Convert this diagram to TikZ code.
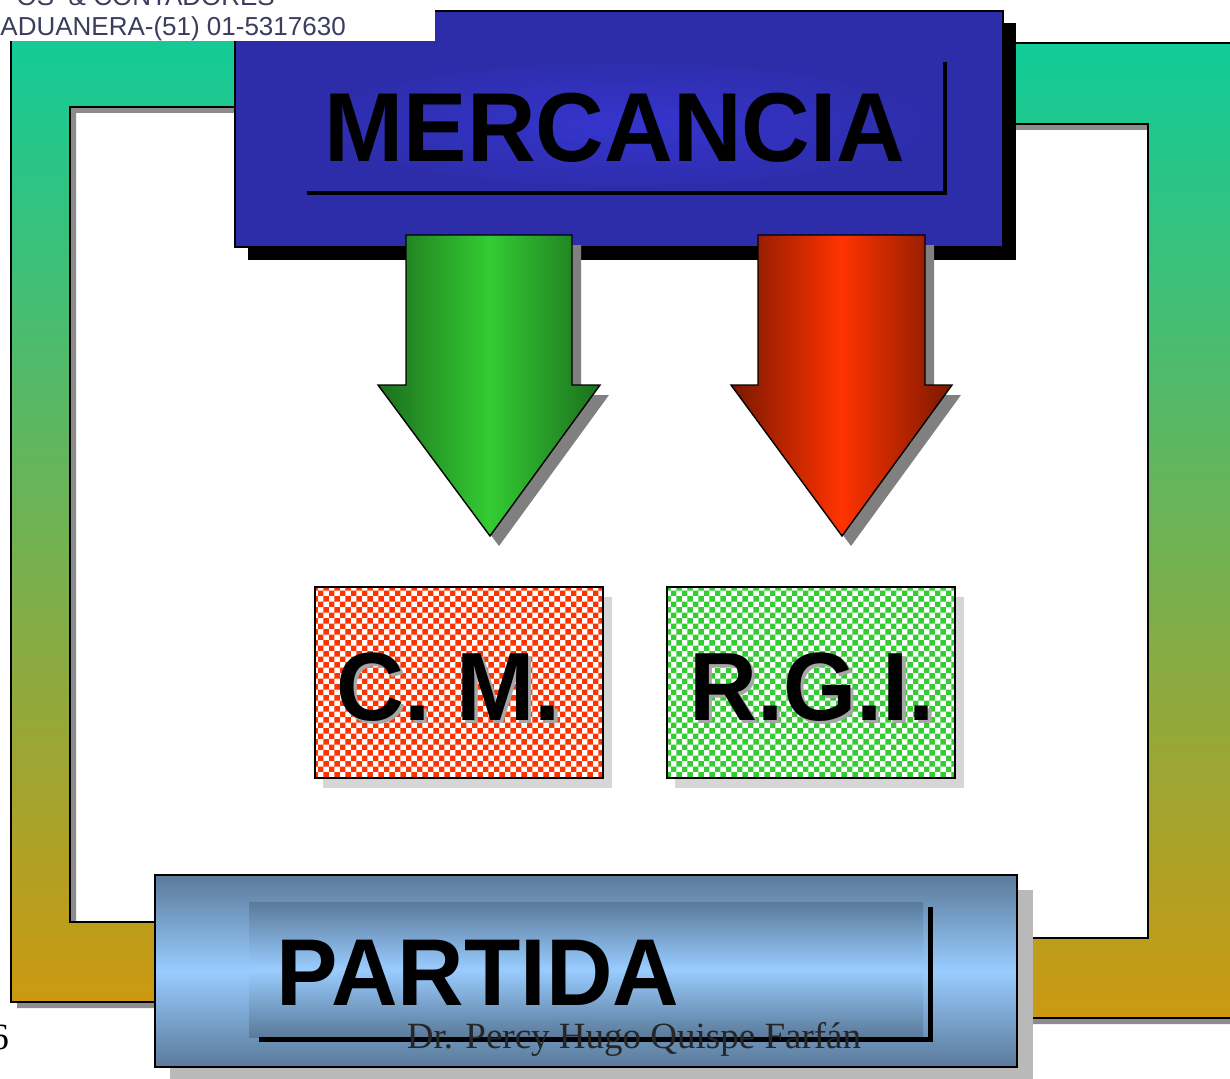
\documentclass[tikz,border=0pt]{standalone}
\usepackage{fontspec}
\setmainfont{Liberation Serif}
\setsansfont{Liberation Sans}
\usetikzlibrary{patterns}
\definecolor{teal1}{HTML}{10CC99}
\definecolor{gold1}{HTML}{CC9911}
\definecolor{blueout}{HTML}{2D2DAA}
\definecolor{bluein}{HTML}{3535CE}
\definecolor{gdark}{HTML}{1C6E1C}
\definecolor{glight}{HTML}{33CC33}
\definecolor{rdark}{HTML}{7A1800}
\definecolor{rlight}{HTML}{FF3300}
\definecolor{steel}{HTML}{5A7A9A}
\definecolor{sky}{HTML}{99CCFF}
\definecolor{headtxt}{HTML}{3C3C5E}
\definecolor{arrsh}{HTML}{808080}
\definecolor{boxsh}{HTML}{D6D6D6}
\newcommand{\bigsans}[1]{\fontsize{#1}{#1}\selectfont\sffamily\bfseries}
\begin{document}
\begin{tikzpicture}[x=1pt,y=-1pt,line join=miter,
  outl/.style={draw=black,line width=1.2pt},
  framefill/.style={top color=teal1,bottom color=gold1,outl},
  frameshadow/.style={fill=gray!90},
  bigtxt/.style={anchor=base,inner sep=0pt,xscale=.97,font=\bigsans{#1}},
  arrowsh/.style={fill=arrsh},
  greenarr/.style={left color=gdark,right color=gdark,middle color=glight,outl,line width=1.4pt},
  redarr/.style={left color=rdark,right color=rdark,middle color=rlight,outl,line width=1.4pt},
  lshadow/.style={line width=5pt,draw=black,line cap=butt}]
\useasboundingbox (0,0) rectangle (1230,1078);
\fill[white] (0,0) rectangle (1230,1078);

% ---- frame: left and right pieces ----
\path[frameshadow,shift={(6,6)}] (640,27) -- (11,27) -- (11,1002) -- (640,1002) -- (640,922) -- (70,922) -- (70,107) -- (640,107) -- cycle;
\path[framefill] (640,27) -- (11,27) -- (11,1002) -- (640,1002) -- (640,922) -- (70,922) -- (70,107) -- (640,107) -- cycle;
\path[frameshadow,shift={(6,6)}] (640,43) -- (1240,43) -- (1240,1018) -- (640,1018) -- (640,938) -- (1148,938) -- (1148,124) -- (640,124) -- cycle;
\path[framefill] (640,43) -- (1240,43) -- (1240,1018) -- (640,1018) -- (640,938) -- (1148,938) -- (1148,124) -- (640,124) -- cycle;

% ---- MERCANCIA box ----
\fill[black] (248,23) rectangle (1016,260);
\draw[fill=blueout,line width=1.2pt] (235,11) rectangle (1003,247);
\shade[inner color=bluein,outer color=blueout] (305,57) rectangle (942,191);
\draw[lshadow,line width=4.5pt] (307,193) -- (945,193) -- (945,62);
\node[bigtxt=98] (merc) at (615,162) {MERCANCIA};

% ---- header ----
\fill[white] (0,0) rectangle (435,41);
\node[anchor=base east,inner sep=0pt,text=headtxt,font=\fontsize{26}{26}\selectfont\sffamily] (h1) at (275,6) {OS\ \ \& CONTADORES};
\node[anchor=base east,inner sep=0pt,text=headtxt,font=\fontsize{26}{26}\selectfont\sffamily] (h2) at (346,36) {ADUANERA-(51) 01-5317630};

% ---- arrows ----
\path[arrowsh,shift={(9,10)}] (406,235) -- (572,235) -- (572,385) -- (600,385) -- (490,536) -- (378,385) -- (406,385) -- cycle;
\path[greenarr] (406,235) -- (572,235) -- (572,385) -- (600,385) -- (490,536) -- (378,385) -- (406,385) -- cycle;
\path[arrowsh,shift={(9,10)}] (758,235) -- (925,235) -- (925,385) -- (952,385) -- (842,536) -- (731,385) -- (758,385) -- cycle;
\path[redarr] (758,235) -- (925,235) -- (925,385) -- (952,385) -- (842,536) -- (731,385) -- (758,385) -- cycle;

% ---- C.M. box ----
\fill[boxsh] (323,597) rectangle (612,788);
\fill[white] (315,587) rectangle (603,778);
\fill[pattern=checkerboard,pattern color=rlight] (315,587) rectangle (603,778);
\draw[line width=1.6pt] (315,587) rectangle (603,778);
\node[bigtxt=97,text=black!35] (cmsh) at (452,723) {C. M.};
\node[bigtxt=97] (cm) at (448.5,720) {C. M.};

% ---- R.G.I. box ----
\fill[boxsh] (675,597) rectangle (964,788);
\fill[white] (667,587) rectangle (955,778);
\fill[pattern=checkerboard,pattern color=glight] (667,587) rectangle (955,778);
\draw[line width=1.6pt] (667,587) rectangle (955,778);
\node[bigtxt=97,text=black!35] (rgish) at (815.5,723) {R.G.I.};
\node[bigtxt=97] (rgi) at (812,720) {R.G.I.};

% ---- PARTIDA box ----
\fill[gray!55] (170,890) rectangle (1033,1082);
\draw[top color=steel,bottom color=steel,middle color=sky,line width=1.3pt] (155,875) rectangle (1017,1067);
\shade[top color=steel,bottom color=steel,middle color=sky] (249,902) rectangle (923,1037);
\draw[lshadow] (259,1039) -- (930,1039) -- (930,907);
\node[bigtxt=95] (part) at (478,1005) {PARTIDA};
\node[anchor=base,inner sep=0pt,text=black!85,font=\fontsize{37}{37}\selectfont\rmfamily] (auth) at (634,1048) {Dr. Percy Hugo Quispe Farfán};

% ---- page number ----
\node[anchor=base east,inner sep=0pt,font=\fontsize{37}{37}\selectfont\rmfamily] (pnum) at (9,1049) {6};
\end{tikzpicture}
\end{document}
